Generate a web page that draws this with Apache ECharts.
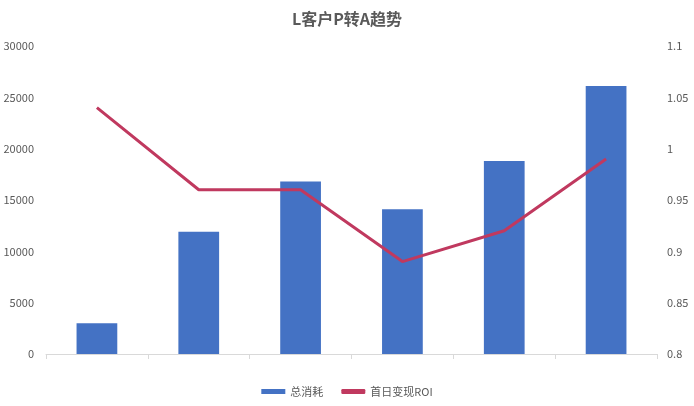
<!DOCTYPE html>
<html>
<head>
<meta charset="utf-8">
<script src="https://cdn.jsdelivr.net/npm/echarts@6/dist/echarts.min.js"></script>
<style>
  html, body { margin: 0; padding: 0; background: #fff; }
  #main { width: 694px; height: 406px; }
</style>
</head>
<body>
<div id="main"></div>
<script>
var categories = ['1', '2', '3', '4', '5', '6'];
var spend = [3000, 11900, 16800, 14100, 18800, 26100];
var roi = [1.04, 0.96, 0.96, 0.89, 0.92, 0.99];

var myChart = echarts.init(document.getElementById('main'));
var font = '"Noto Sans CJK SC", "Noto Sans", sans-serif';

var option = {
    animation: false,
    title: {
        text: 'L客户P转A趋势',
        left: 'center',
        top: 6,
        textStyle: { fontFamily: font, fontSize: 16, fontWeight: 'bold', color: '#595959' }
    },
    legend: {
        bottom: 4,
        left: 'center',
        itemWidth: 24,
        itemHeight: 5,
        itemGap: 18,
        textStyle: { fontFamily: font, fontSize: 11, color: '#595959' },
        data: [
            { name: '总消耗', icon: 'rect' },
            { name: '首日变现ROI', icon: 'roundRect' }
        ]
    },
    grid: { left: 46, right: 37, top: 46, bottom: 52 },
    xAxis: {
        type: 'category',
        data: categories,
        axisLine: { lineStyle: { color: '#d9d9d9' } },
        axisTick: { show: true, length: 5, lineStyle: { color: '#d9d9d9' } },
        axisLabel: { show: false }
    },
    yAxis: [
        {
            type: 'value',
            min: 0,
            max: 30000,
            interval: 5000,
            splitLine: { show: false },
            axisLine: { show: false },
            axisLabel: {
                fontFamily: font, fontSize: 11, color: '#595959', margin: 12,
                formatter: function (v) { return String(v); }
            }
        },
        {
            type: 'value',
            min: 0.8,
            max: 1.1,
            interval: 0.05,
            splitLine: { show: false },
            axisLine: { show: false },
            axisLabel: {
                fontFamily: font, fontSize: 11, color: '#595959', margin: 10,
                formatter: function (v) { return String(Math.round(v * 100) / 100); }
            }
        }
    ],
    series: [
        {
            name: '总消耗',
            type: 'bar',
            barWidth: '40%',
            itemStyle: { color: '#4472c4' },
            data: spend
        },
        {
            name: '首日变现ROI',
            type: 'line',
            yAxisIndex: 1,
            symbol: 'none',
            lineStyle: { color: '#c0395f', width: 3 },
            itemStyle: { color: '#c0395f' },
            data: roi
        }
    ]
};
myChart.setOption(option);
</script>
</body>
</html>
